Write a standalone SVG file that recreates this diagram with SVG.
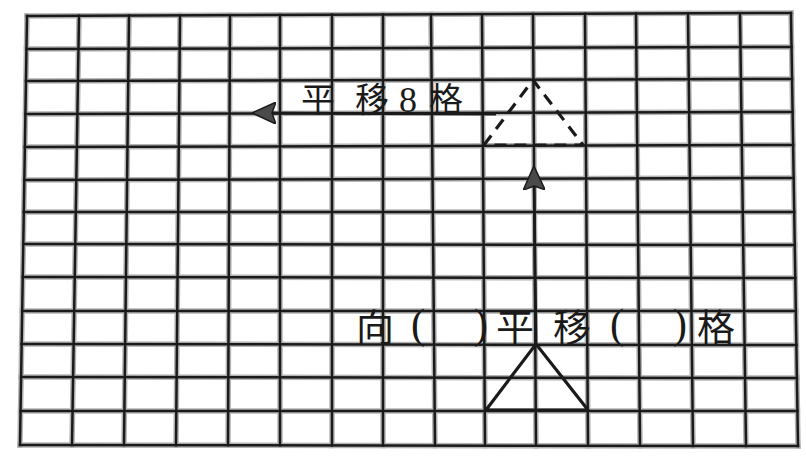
<svg xmlns="http://www.w3.org/2000/svg" width="806" height="457" viewBox="0 0 806 457">
<style>
.halo{stroke:#b4b4b4;stroke-width:5.5;fill:none;stroke-linecap:square}
.gl{stroke:#1a1a1a;stroke-width:2.5;fill:none;stroke-linecap:square}
.cjk{font-family:"Noto Sans CJK SC","Noto Sans CJK JP",sans-serif;fill:#1a1a1a}
.paren{font-family:"Liberation Serif","DejaVu Serif",serif;fill:#1a1a1a}
.arrow{stroke:#1a1a1a;stroke-width:2.8;fill:none}
</style>
<defs>
<marker id="ah" markerUnits="userSpaceOnUse" viewBox="0 0 24 22" refX="14" refY="11" markerWidth="24" markerHeight="22" orient="auto">
<path d="M0,0 L24,11 L0,22 L4,11 Z" fill="#4a4a4a" stroke="#1a1a1a" stroke-width="1.5" stroke-linejoin="round"/>
</marker>
<g id="vlines">
<path d="M27,16L20,445M79,15.8L72,445.1M129,15.6L124,445.1M180,15.4L176,445.2M230,15.2L228,445.3M280,15L280,445.3M332,14.8L332,445.4M383,14.6L383,445.5M431,14.4L435,445.5M482,14.2L485,445.6M533,14L536,445.7M585,13.8L588,445.7M636,13.6L640,445.8M688,13.4L693,445.9M740,13.2L746,445.9M791,13L798,446"/>
</g>
<g id="hlines">
<path d="M27,16L791,13M26.5,49L791.5,47M26,81L792,79M25.4,114L792.6,112M24.9,147L793.1,145M24.3,180L793.6,178M23.8,212L794.2,212M23.3,244L794.7,245M22.7,277L795.3,278M22.2,311L795.8,311M21.6,344L796.4,345M21.1,377L796.9,378M20.6,411L797.4,411M20,445L798,446"/>
</g>
</defs>
<rect width="806" height="457" fill="#fff"/>
<g id="grid">
<use href="#vlines" class="halo"/>
<use href="#hlines" class="halo"/>
<use href="#vlines" class="gl"/>
<use href="#hlines" class="gl"/>
</g>
<g id="dashed-triangle">
<path d="M484,145 L533,80 L583,145 Z" fill="none" stroke="#1a1a1a" stroke-width="3.2" stroke-dasharray="12 8" stroke-linejoin="miter"/>
</g>
<g id="solid-triangle">
<path d="M486,410 L536,344 L588,410 Z" fill="none" stroke="#1a1a1a" stroke-width="3.2" stroke-linejoin="miter"/>
</g>
<g id="connectors">
<path class="arrow" d="M496,114 L262,113" marker-end="url(#ah)"/>
<path class="arrow" d="M536,344 L534,176" marker-end="url(#ah)"/>
</g>
<g id="label-top">
<text class="cjk" font-size="34" x="301" y="112">平</text>
<text class="cjk" font-size="34" x="355" y="112">移</text>
<text class="paren" font-size="36" x="399" y="112">8</text>
<text class="cjk" font-size="34" x="429" y="112">格</text>
</g>
<g id="label-bottom">
<text class="cjk" font-size="38" x="356" y="341">向</text>
<text class="paren" font-size="42" x="418" y="338" text-anchor="middle">(</text>
<text class="paren" font-size="42" x="481" y="338" text-anchor="middle">)</text>
<text class="cjk" font-size="38" x="496" y="341">平</text>
<text class="cjk" font-size="38" x="553" y="341">移</text>
<text class="paren" font-size="42" x="617" y="338" text-anchor="middle">(</text>
<text class="paren" font-size="42" x="680" y="338" text-anchor="middle">)</text>
<text class="cjk" font-size="38" x="697" y="341">格</text>
</g>
</svg>
